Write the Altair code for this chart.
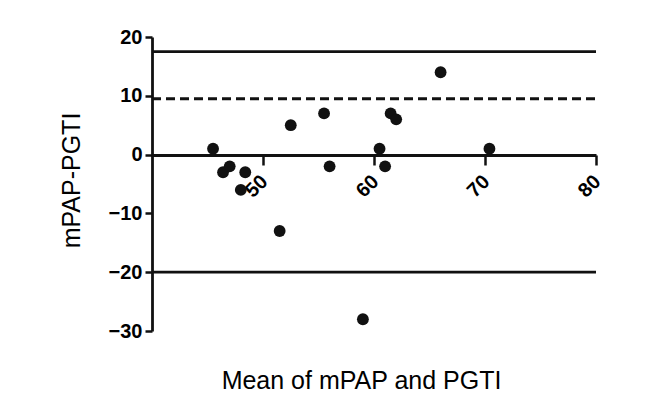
import altair as alt
import pandas as pd

# Bland-Altman data
mean_vals = [45.5, 46.4, 47.0, 48.0, 48.4, 51.5, 52.5, 55.5, 56.0, 59.0, 60.5, 61.0, 61.5, 62.0, 66.0, 70.4]
diff_vals = [1, -3, -2, -6, -3, -13, 5, 7, -2, -28, 1, -2, 7, 6, 14, 1]

limit_y = [17.5, 9.5, -20]
limit_kind = ["solid", "dashed", "solid"]
x_start = 40
x_end = 80

x_ticks = [50, 60, 70, 80]
y_ticks = [-30, -20, -10, 0, 10, 20]

pts = pd.DataFrame({"m": mean_vals, "d": diff_vals})
lims = pd.DataFrame({"y": limit_y, "kind": limit_kind,
                     "x0": [x_start] * 3, "x1": [x_end] * 3})

FONT = "Liberation Sans"
INK = "#111111"

xscale = alt.Scale(domain=[x_start, x_end], nice=False, zero=False)
yscale = alt.Scale(domain=[-30, 20], nice=False, zero=False)

points = alt.Chart(pts).mark_circle(size=140, color=INK, opacity=1).encode(
    x=alt.X("m:Q", scale=xscale, axis=alt.Axis(
        values=x_ticks, labelAngle=-45, labelFont=FONT, labelFontWeight="bold",
        labelFontSize=20, labelColor="#000", labelPadding=6, labelOffset=-6,
        tickSize=10, tickWidth=2.5, tickColor=INK, domainWidth=2.8, domainColor=INK,
        grid=False, offset=-176,
        title="Mean of mPAP and PGTI", titleFont=FONT, titleFontSize=25,
        titleFontWeight="normal", titleColor="#000", titleX=209, titleY=233,
        titleBaseline="alphabetic")),
    y=alt.Y("d:Q", scale=yscale, axis=alt.Axis(
        values=y_ticks, labelFont=FONT, labelFontWeight="bold", labelFontSize=20,
        labelColor="#000", labelPadding=3, tickSize=7, tickWidth=2.5, tickColor=INK,
        domainWidth=2.8, domainColor=INK, grid=False,
        title="mPAP-PGTI", titleFont=FONT, titleFontSize=25, titleFontWeight="normal",
        titleColor="#000", titleX=-73, titleY=143, titleBaseline="alphabetic")),
)

solid = alt.Chart(lims).transform_filter(alt.datum.kind == "solid").mark_rule(
    color=INK, strokeWidth=2.8).encode(
    x=alt.X("x0:Q", scale=xscale), x2="x1:Q", y=alt.Y("y:Q", scale=yscale))

dashed = alt.Chart(lims).transform_filter(alt.datum.kind == "dashed").mark_rule(
    color=INK, strokeWidth=2.8, strokeDash=[9, 5]).encode(
    x=alt.X("x0:Q", scale=xscale), x2="x1:Q", y=alt.Y("y:Q", scale=yscale))

chart = alt.layer(solid, dashed, points).properties(
    width=444, height=294,
    autosize=alt.AutoSizeParams(type="none"),
    padding={"left": 144, "top": 29, "right": 51, "bottom": 67},
    background="white",
).configure_view(stroke=None)

chart.save("out.html", embed_options={"renderer": "svg", "actions": False})
